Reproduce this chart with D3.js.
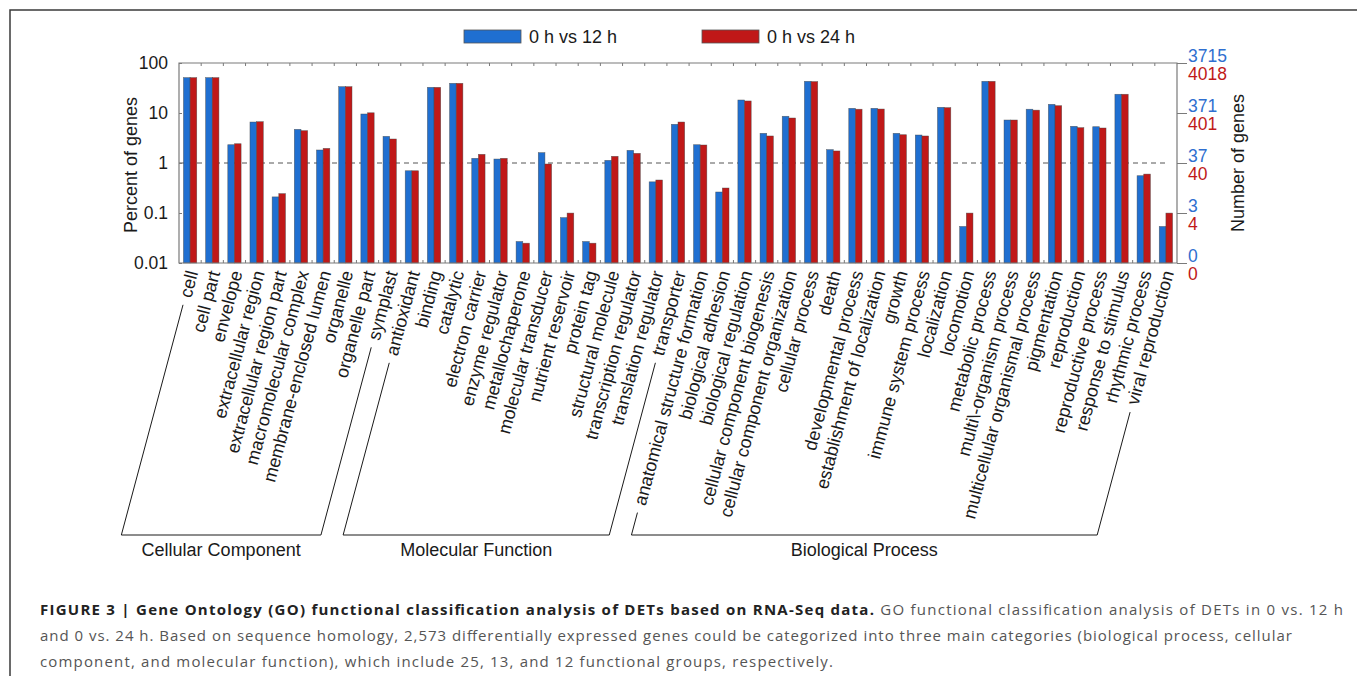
<!DOCTYPE html>
<html>
<head>
<meta charset="utf-8">
<script src="https://cdn.jsdelivr.net/npm/d3@7"></script>
<style>
  html, body { margin: 0; padding: 0; background: #fff; }
  svg { display: block; font-family: Arial, "Liberation Sans", Helvetica, sans-serif; }
</style>
</head>
<body>
<svg id="fig" width="1357" height="676"></svg>
<script>
// GO term categories, in plotting order
const categories = [
  "cell", "cell part", "envelope", "extracellular region", "extracellular region part",
  "macromolecular complex", "membrane-enclosed lumen", "organelle", "organelle part", "symplast",
  "antioxidant", "binding", "catalytic", "electron carrier", "enzyme regulator",
  "metallochaperone", "molecular transducer", "nutrient reservoir", "protein tag",
  "structural molecule", "transcription regulator", "translation regulator", "transporter",
  "anatomical structure formation", "biological adhesion", "biological regulation",
  "cellular component biogenesis", "cellular component organization", "cellular process",
  "death", "developmental process", "establishment of localization", "growth",
  "immune system process", "localization", "locomotion", "metabolic process",
  "multi\\-organism process", "multicellular organismal process", "pigmentation",
  "reproduction", "reproductive process", "response to stimulus", "rhythmic process",
  "viral reproduction"
];

// Percent of genes, 0 h vs 12 h
const pct12 = [
  51.0, 51.0, 2.32, 6.6, 0.21, 4.71, 1.82, 33.6, 9.55, 3.41,
  0.70, 32.6, 39.2, 1.24, 1.20, 0.0269, 1.61, 0.0808, 0.0269, 1.13, 1.79, 0.42, 5.94,
  2.32, 0.263, 18.2, 3.92, 8.6, 43.0, 1.85, 12.4, 12.4, 3.92, 3.63, 13.0, 0.0538,
  43.0, 7.24, 11.9, 14.9, 5.42, 5.32, 23.7, 0.557, 0.0538
];

// Percent of genes, 0 h vs 24 h
const pct24 = [
  51.0, 51.0, 2.43, 6.7, 0.244, 4.43, 1.96, 33.6, 10.1, 3.02,
  0.70, 32.6, 39.2, 1.49, 1.24, 0.0249, 0.955, 0.0996, 0.0249, 1.36, 1.56, 0.457, 6.6,
  2.29, 0.316, 17.4, 3.47, 7.94, 42.5, 1.74, 11.9, 12.0, 3.68, 3.47, 12.8, 0.0996,
  43.0, 7.24, 11.4, 14.0, 5.09, 5.01, 23.7, 0.60, 0.0996
];

const seriesNames = ["0 h vs 12 h", "0 h vs 24 h"];
const seriesColors = ["#1f6fd1", "#c01818"];

// Left axis ticks (percent) and right axis gene-count labels
const percentTicks = [0.01, 0.1, 1, 10, 100];
const percentTickLabels = ["0.01", "0.1", "1", "10", "100"];
const genes12Labels = ["0", "3", "37", "371", "3715"];
const genes24Labels = ["0", "4", "40", "401", "4018"];

// Ontology groups: first and last category index of each
const groupNames = ["Cellular Component", "Molecular Function", "Biological Process"];
const groupFirst = [0, 10, 23];
const groupLast = [9, 22, 44];

const captionBold = "FIGURE 3 | Gene Ontology (GO) functional classification analysis of DETs based on RNA-Seq data.";
const captionLines = [
  " GO functional classification analysis of DETs in 0 vs. 12 h",
  "and 0 vs. 24 h. Based on sequence homology, 2,573 differentially expressed genes could be categorized into three main categories (biological process, cellular",
  "component, and molecular function), which include 25, 13, and 12 functional groups, respectively."
];

const svg = d3.select("#fig");
const W = 1357, H = 676;
svg.append("rect").attr("width", W).attr("height", H).attr("fill", "#fff");

// Panel frame (top and left edges)
svg.append("path").attr("d", `M10,${H} L10,10 L${W},10`)
  .attr("fill", "none").attr("stroke", "#3a3a3a").attr("stroke-width", 1.5);

const plot = { left: 179, right: 1177, top: 63, bottom: 263 };
const axisGray = "#7a7a7a";

const x = d3.scaleBand().domain(categories).range([plot.left, plot.right]).padding(0);
const bw = x.bandwidth();
const xs = d3.scaleBand().domain(seriesNames).range([bw * 0.2, bw * 0.8]).padding(0);
const y = d3.scaleLog().domain([0.01, 100]).range([plot.bottom, plot.top]);

// Reference line at 1 %
svg.append("line")
  .attr("x1", plot.left).attr("x2", plot.right - 8)
  .attr("y1", y(1)).attr("y2", y(1))
  .attr("stroke", "#555").attr("stroke-width", 1).attr("stroke-dasharray", "5,4");

// Bars
const rows = categories.map((c, i) => ({ cat: c, vals: [pct12[i], pct24[i]] }));
const groups = svg.append("g").selectAll("g").data(rows).join("g")
  .attr("transform", d => `translate(${x(d.cat)},0)`);
groups.selectAll("rect")
  .data(d => d.vals.map((v, k) => ({ v, k })))
  .join("rect")
  .attr("x", d => xs(seriesNames[d.k]))
  .attr("width", xs.bandwidth())
  .attr("y", d => y(d.v))
  .attr("height", d => plot.bottom - y(d.v))
  .attr("fill", d => seriesColors[d.k])
  .attr("stroke", "#444").attr("stroke-opacity", 0.7).attr("stroke-width", 0.6);

// Axes box
const box = svg.append("g").attr("fill", "none").attr("stroke", axisGray).attr("stroke-width", 1.2);
box.append("path").attr("d",
  `M${plot.left},${plot.bottom} L${plot.left},${plot.top} L${plot.right},${plot.top} L${plot.right},${plot.bottom} Z`);

// Category boundary ticks on top and bottom edges (inward)
const bounds = categories.slice(1).map(c => x(c));
svg.append("g").selectAll("path").data(bounds).join("path")
  .attr("d", b => `M${b},${plot.top} v3 M${b},${plot.bottom} v-3`)
  .attr("stroke", axisGray).attr("stroke-width", 1);

// Left axis
const leftAxis = d3.axisLeft(y).tickValues(percentTicks)
  .tickFormat((d, i) => percentTickLabels[i]).tickSize(-3).tickPadding(11);
const gl = svg.append("g").attr("transform", `translate(${plot.left},0)`).call(leftAxis);
gl.select(".domain").remove();
gl.selectAll(".tick line").attr("stroke", axisGray);
gl.selectAll(".tick text").attr("font-size", 17.5).attr("fill", "#1a1a1a")
  .attr("font-family", 'Arial, "Liberation Sans", sans-serif');

// Right axis: two rows of gene counts
const rightAxis = d3.axisRight(y).tickValues(percentTicks).tickFormat("").tickSize(10);
const gr = svg.append("g").attr("transform", `translate(${plot.right},0)`).call(rightAxis);
gr.select(".domain").remove();
gr.selectAll(".tick line").attr("stroke", axisGray);
const rlab = svg.append("g").attr("font-size", 17.5);
rlab.selectAll("text.g12").data(percentTicks).join("text").attr("class", "g12")
  .attr("x", plot.right + 11).attr("y", d => y(d) - 1.5)
  .attr("fill", "#2f6fd0").text((d, i) => genes12Labels[i]);
rlab.selectAll("text.g24").data(percentTicks).join("text").attr("class", "g24")
  .attr("x", plot.right + 11).attr("y", d => y(d) + 17)
  .attr("fill", "#c01818").text((d, i) => genes24Labels[i]);

// Axis titles
svg.append("text").attr("transform", `translate(137,165) rotate(-90)`)
  .attr("text-anchor", "middle").attr("font-size", 18).attr("fill", "#1a1a1a")
  .text("Percent of genes");
svg.append("text").attr("transform", `translate(1244,163) rotate(-90)`)
  .attr("text-anchor", "middle").attr("font-size", 18).attr("fill", "#1a1a1a")
  .text("Number of genes");

// Legend
const legend = svg.append("g");
const legendX = [464, 702];
seriesNames.forEach((s, k) => {
  legend.append("rect").attr("x", legendX[k]).attr("y", 30).attr("width", 57).attr("height", 13)
    .attr("fill", seriesColors[k]).attr("stroke", "#555").attr("stroke-width", 0.8);
  legend.append("text").attr("x", legendX[k] + 65).attr("y", 43)
    .attr("font-size", 18).attr("fill", "#1a1a1a").text(s);
});

// Rotated category labels
const ANG = 75;
const rad = ANG * Math.PI / 180;
const labelY = 271;
const anchorX = c => x(c) + bw / 2 + 2;
const labels = svg.append("g").selectAll("text").data(categories).join("text")
  .attr("transform", c => `translate(${anchorX(c)},${labelY}) rotate(${-ANG})`)
  .attr("text-anchor", "end").attr("dy", "0.35em")
  .attr("font-size", 18).attr("fill", "#1a1a1a")
  .text(c => c);
const labelLen = {};
labels.each(function (c) { labelLen[c] = this.getComputedTextLength(); });

// Group brackets following the label direction
const bracketY = 535;
const bracket = svg.append("g").attr("fill", "none").attr("stroke", "#1a1a1a").attr("stroke-width", 1);
groupNames.forEach((g, gi) => {
  const c0 = categories[groupFirst[gi]], c1 = categories[groupLast[gi]];
  const p = (c, t) => [anchorX(c) - t * Math.cos(rad), labelY + t * Math.sin(rad)];
  const tEnd = (bracketY - labelY) / Math.sin(rad);
  const a0 = p(c0, Math.min(labelLen[c0] + 8, tEnd - 20)), b0 = p(c0, tEnd);
  const a1 = p(c1, Math.min(labelLen[c1] + 8, tEnd - 20)), b1 = p(c1, tEnd);
  bracket.append("path").attr("d",
    `M${a0[0]},${a0[1]} L${b0[0]},${b0[1]} L${b1[0]},${b1[1]} L${a1[0]},${a1[1]}`);
  svg.append("text").attr("x", (b0[0] + b1[0]) / 2).attr("y", 556)
    .attr("text-anchor", "middle").attr("font-size", 18).attr("fill", "#1a1a1a").text(g);
});

// Caption
const cap = svg.append("g").attr("font-size", 15).attr("fill", "#555")
  .attr("font-family", '"Open Sans", Arial, "Liberation Sans", sans-serif');
const capWidths = [1303, 1252, 793];
const capY = [615, 641, 667];
captionLines.forEach((line, i) => {
  const t = cap.append("text").attr("x", 40).attr("y", capY[i])
    .attr("textLength", capWidths[i]).attr("lengthAdjust", "spacing");
  if (i === 0) {
    t.append("tspan").attr("font-weight", "bold").attr("fill", "#222").text(captionBold);
  }
  t.append("tspan").text(line);
});
</script>
</body>
</html>
